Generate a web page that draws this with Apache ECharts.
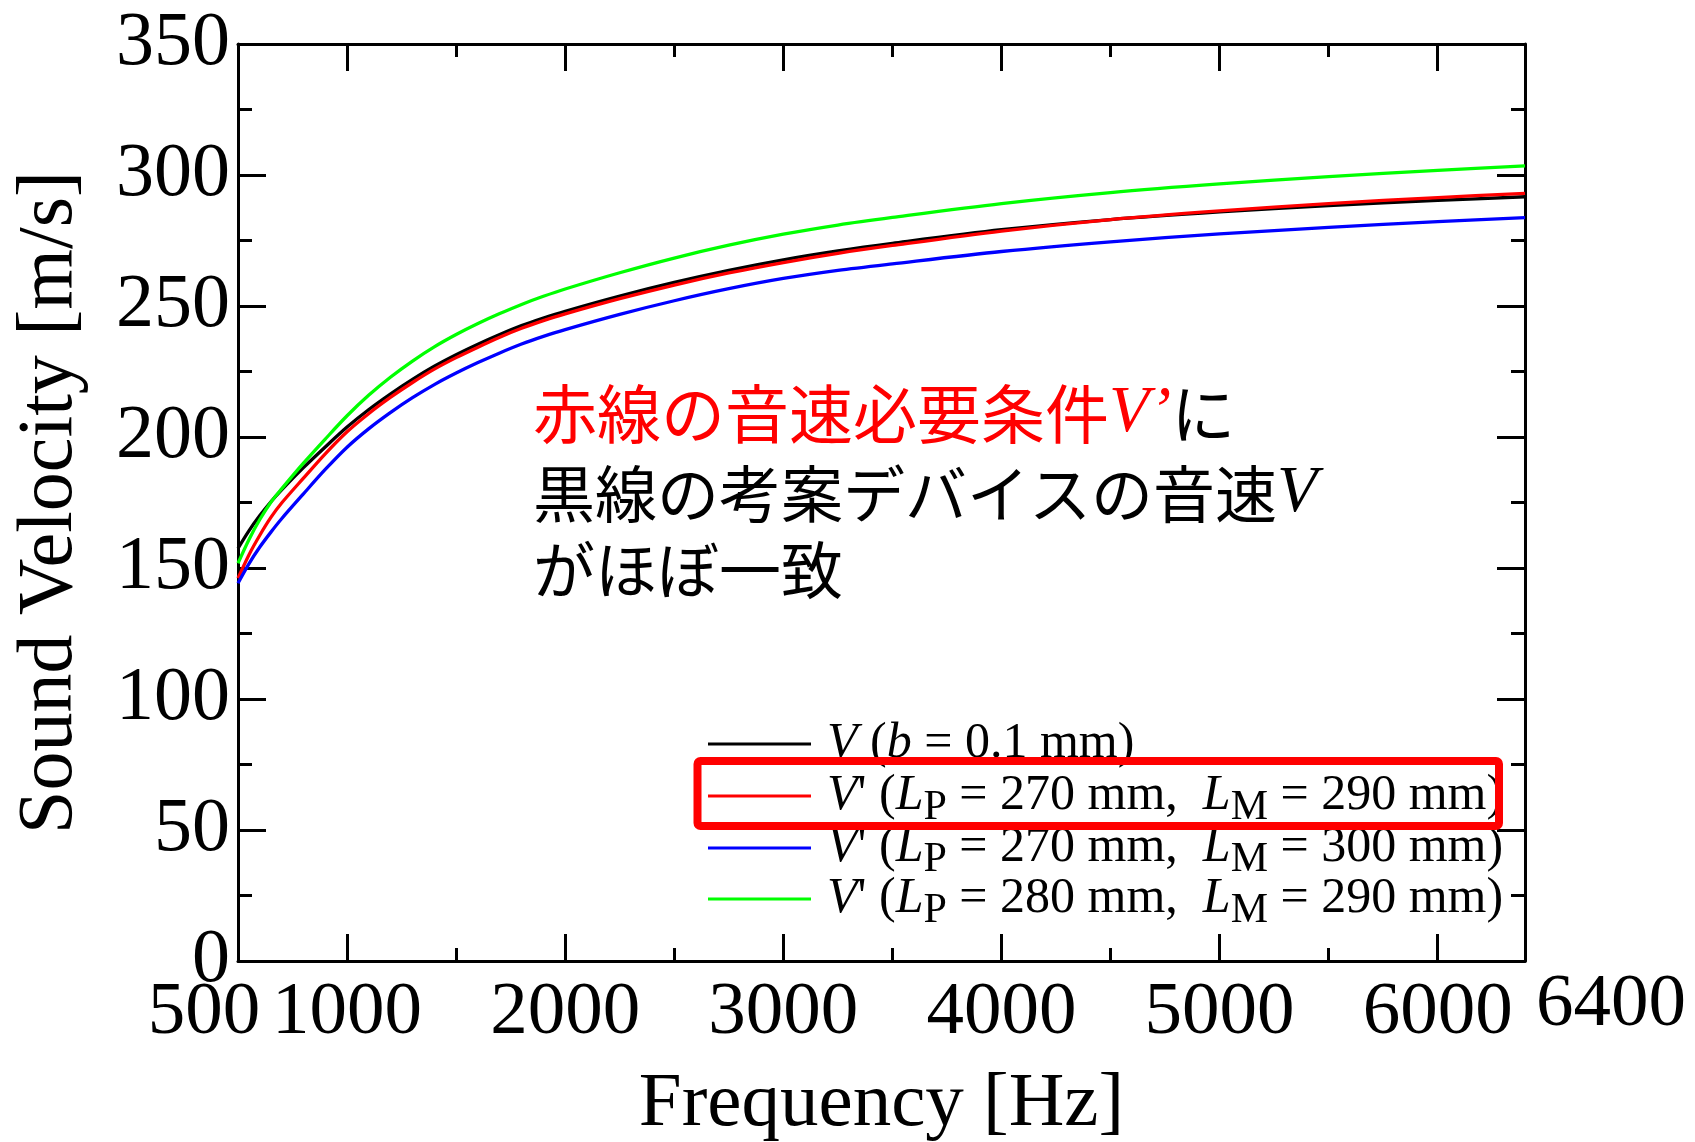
<!DOCTYPE html>
<html><head><meta charset="utf-8">
<script src="https://cdn.jsdelivr.net/npm/echarts@6/dist/echarts.min.js"></script>
<style>html,body{margin:0;padding:0;background:#fff}#c{width:1695px;height:1142px}</style>
</head><body><div id="c"></div>
<script>
// ---- data ----
const freq   = [500,550,600,650,700,800,900,1000,1100,1200,1300,1400,1500,1600,1700,1800,1900,2000,2250,2500,2750,3000,3250,3500,4000,4500,5000,5500,6000,6400];
const vBlack = [157.5,164.2,170.0,175.2,179.8,188.3,196.2,203.8,210.5,216.5,222.0,227.0,231.4,235.4,239.1,242.5,245.4,248.0,253.8,259.0,263.6,267.6,271.0,273.9,279.1,283.0,285.9,288.3,290.3,291.7];
const vRed   = [146.1,155.0,162.5,169.2,174.8,184.3,193.6,202.0,209.0,215.2,220.8,225.9,230.3,234.3,238.1,241.5,244.4,247.0,252.8,258.0,262.6,266.6,270.1,273.1,278.6,283.0,286.3,289.1,291.4,293.0];
const vBlue  = [144.2,151.6,158.0,163.6,168.8,178.3,187.6,196.1,203.2,209.4,215.0,220.0,224.4,228.4,232.1,235.5,238.4,241.0,246.8,252.0,256.6,260.5,263.6,266.1,270.8,274.5,277.5,280.0,282.2,283.7];
const vGreen = [151.8,160.8,168.5,175.0,180.2,190.0,199.2,208.1,216.0,222.9,229.0,234.4,239.1,243.3,247.1,250.6,253.7,256.5,262.7,268.3,273.2,277.4,280.9,283.8,289.1,293.3,296.6,299.4,301.8,303.5];

const seriesNames = ["V (b = 0.1 mm)", "V' (LP = 270 mm, LM = 290 mm)", "V' (LP = 270 mm, LM = 300 mm)", "V' (LP = 280 mm, LM = 290 mm)"];
const seriesColors = ['#000000', '#ff0000', '#0000ff', '#00ff00'];
const legendRich = [
  "{i|V}{n| (}{i|b}{n| = 0.1 mm)}",
  "{i|V}{n|' (}{i|L}{s|P}{n| = 270 mm,  }{i|L}{s|M}{n| = 290 mm)}",
  "{i|V}{n|' (}{i|L}{s|P}{n| = 270 mm,  }{i|L}{s|M}{n| = 300 mm)}",
  "{i|V}{n|' (}{i|L}{s|P}{n| = 280 mm,  }{i|L}{s|M}{n| = 290 mm)}"
];
const xTickLabels = [500,1000,2000,3000,4000,5000,6000,6400];
const xMajorTicks = [1000,2000,3000,4000,5000,6000];
const xMinorTicks = [1500,2500,3500,4500,5500];
const yMin = 0, yMax = 350, yStep = 50;
const xMin = 500, xMax = 6400;

const serif = 'Liberation Serif';
const cjk = 'Noto Sans CJK JP';

const chart = echarts.init(document.getElementById('c'));

function tickAxis(pos, ticks, len, withLine) {
  return {
    type: 'value', position: pos, min: xMin, max: xMax,
    axisLine: { show: withLine, onZero: false, lineStyle: { color: '#000', width: 3 } },
    axisTick: { show: true, inside: true, length: len, customValues: ticks, lineStyle: { color: '#000', width: 3 } },
    axisLabel: { show: false },
    splitLine: { show: false }
  };
}

const lblBase = { fontFamily: serif, fontSize: 75, color: '#000' };
const xAxis0 = {
  type: 'value', position: 'bottom', min: xMin, max: xMax,
  axisLine: { show: true, onZero: false, lineStyle: { color: '#000', width: 3 } },
  axisTick: { show: true, inside: true, length: 27, customValues: xMajorTicks, lineStyle: { color: '#000', width: 3 } },
  axisLabel: {
    show: true, customValues: xTickLabels, margin: 2,
    fontFamily: serif, fontSize: 75, color: '#000',
    formatter: function (v) {
      if (v === xMin) return '{l|' + v + '}';
      if (v === xMax) return '{r|' + v + '}';
      return '{m|' + v + '}';
    },
    rich: {
      m: Object.assign({ padding: [13, 0, 0, 0] }, lblBase),
      l: Object.assign({ padding: [13, 68, 0, 0] }, lblBase),
      r: Object.assign({ padding: [5, 0, 0, 172] }, lblBase)
    }
  },
  splitLine: { show: false },
  name: 'Frequency [Hz]', nameLocation: 'middle', nameGap: 105,
  nameTextStyle: { fontFamily: serif, fontSize: 77, color: '#000' }
};

function yAx(pos, labels) {
  return {
    type: 'value', position: pos, min: yMin, max: yMax, interval: yStep,
    axisLine: { show: true, onZero: false, lineStyle: { color: '#000', width: 3 } },
    axisTick: { show: true, inside: true, length: 28, lineStyle: { color: '#000', width: 3 } },
    minorTick: { show: true, splitNumber: 2, length: 14, lineStyle: { color: '#000', width: 3 } },
    axisLabel: labels ? { show: true, margin: 8, fontFamily: serif, fontSize: 76, color: '#000' } : { show: false },
    splitLine: { show: false }, minorSplitLine: { show: false },
    name: labels ? 'Sound Velocity [m/s]' : '',
    nameLocation: 'middle', nameGap: 148, nameRotate: 90,
    nameTextStyle: { fontFamily: serif, fontSize: 78, color: '#000' }
  };
}

const datasets = [vBlack, vRed, vBlue, vGreen];
const series = datasets.map(function (vals, k) {
  return {
    name: seriesNames[k], type: 'line', xAxisIndex: 0, yAxisIndex: 0,
    data: freq.map(function (f, i) { return [f, vals[i]]; }),
    smooth: 0.3, symbol: 'none', showSymbol: false,
    lineStyle: { color: seriesColors[k], width: 3.3 },
    itemStyle: { color: seriesColors[k] },
    z: 2 + k
  };
});

const LH = 48;
const legendTops = [719, 771, 823, 874];
const legends = seriesNames.map(function (nm, k) {
  return {
    orient: 'vertical', left: 708, top: legendTops[k], padding: 0, itemGap: 0,
    itemWidth: 103, itemHeight: 3, icon: 'rect', selectedMode: false,
    data: [nm],
    formatter: function (name) { return legendRich[seriesNames.indexOf(name)]; },
    textStyle: {
      fontFamily: serif, fontSize: 50, color: '#000', lineHeight: LH, padding: [0, 0, 0, 11],
      rich: {
        i: { fontFamily: serif, fontSize: 50, fontStyle: 'italic', color: '#000', lineHeight: LH },
        n: { fontFamily: serif, fontSize: 50, color: '#000', lineHeight: LH },
        s: { fontFamily: serif, fontSize: 42, color: '#000', lineHeight: LH, height: 24, verticalAlign: 'bottom' }
      }
    }
  };
});

const option = {
  animation: false,
  backgroundColor: '#ffffff',
  grid: { left: 238, right: 170, top: 44, bottom: 181, containLabel: false, outerBoundsMode: 'none' },
  xAxis: [xAxis0, tickAxis('bottom', xMinorTicks, 13, false), tickAxis('top', xMajorTicks, 27, true), tickAxis('top', xMinorTicks, 13, false)],
  yAxis: [yAx('left', true), yAx('right', false)],
  legend: legends,
  graphic: [
    { type: 'rect', z: 100, shape: { x: 697.5, y: 761, width: 801.5, height: 65, r: 3 },
      style: { fill: 'none', stroke: '#ff0000', lineWidth: 8 } },
    { type: 'text', z: 100, x: 533, y: 414,
      style: { text: '{r|赤線の音速必要条件}{rv|V’}{k|に}', verticalAlign: 'middle', align: 'left',
        rich: {
          r: { fontFamily: cjk, fontSize: 64, fill: '#ff0000', color: '#ff0000' },
          rv: { fontFamily: serif, fontSize: 66, fontStyle: 'italic', fill: '#ff0000', color: '#ff0000' },
          k: { fontFamily: cjk, fontSize: 64, fill: '#000', color: '#000' }
        } } },
    { type: 'text', z: 100, x: 533, y: 494,
      style: { text: '{k|黒線の考案デバイスの音速}{kv|V}', verticalAlign: 'middle', align: 'left',
        rich: {
          k: { fontFamily: cjk, fontSize: 62, fill: '#000', color: '#000' },
          kv: { fontFamily: serif, fontSize: 66, fontStyle: 'italic', fill: '#000', color: '#000' }
        } } },
    { type: 'text', z: 100, x: 533, y: 570,
      style: { text: 'がほぼ一致', verticalAlign: 'middle', align: 'left',
        fontFamily: cjk, fontSize: 62, fill: '#000' } }
  ],
  series: series
};
chart.setOption(option);
</script>
</body></html>
